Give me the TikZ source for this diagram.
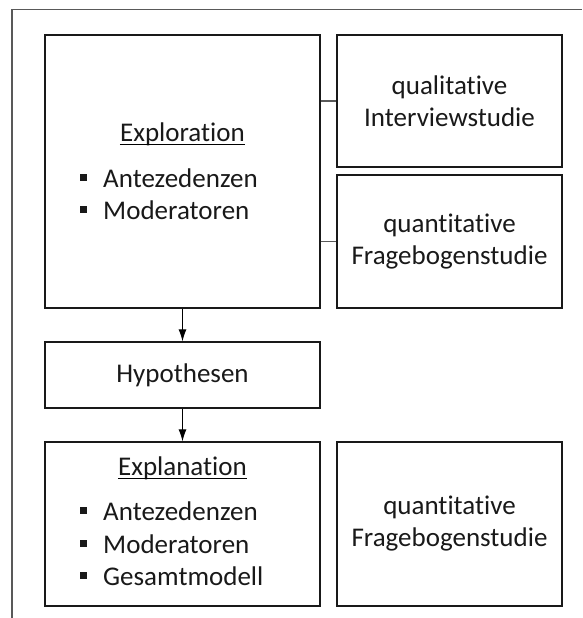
\documentclass[tikz,border=0pt]{standalone}
\usepackage{fontspec}
\setmainfont{Carlito}[Ligatures=NoCommon]
\usetikzlibrary{arrows.meta}

\begin{document}
\begin{tikzpicture}[x=1pt,y=1pt,
	box/.style={draw=black!90, line width=1.3pt, inner sep=0pt},
	txt/.style={font=\fontsize{27}{32}\selectfont, inner sep=0pt, text=black!90},
	link/.style={draw=black!65, line width=1.3pt},
	flow/.style={draw=black, line width=1pt, -{Latex[length=12pt,width=8pt]}},
	rahmen/.style={draw=black!65, line width=1.5pt}]
	\useasboundingbox (0,0) rectangle (582,-618);
	% outer frame
	\draw[rahmen] (12,-618) -- (12,-9.5) -- (582,-9.5);
	% left column
	\node[box, minimum width=275pt, minimum height=273pt] (expl) at (182.5,-171.5) {};
	\node[box, txt, minimum width=275pt, minimum height=66pt] (hyp) at (182.5,-375) {Hypothesen};
	\node[box, minimum width=275pt, minimum height=164pt] (explan) at (182.5,-524) {};
	% right column
	\node[box, txt, align=center, minimum width=225pt, minimum height=132pt] (qual) at (449.5,-101) {qualitative\\Interviewstudie};
	\node[box, txt, align=center, minimum width=225pt, minimum height=133pt] (quant) at (449.5,-241.5) {quantitative\\Fragebogenstudie};
	\node[box, txt, align=center, minimum width=225pt, minimum height=164pt] (quantb) at (449.5,-524) {quantitative\\Fragebogenstudie};
	% box contents
	\node[txt, anchor=base] (explt) at (182.5,-141) {Exploration};
	\draw[line width=1.6pt] ([yshift=-3.5pt]explt.base west) -- ([yshift=-3.5pt]explt.base east);
	\foreach \name/\y [count=\i] in {Antezedenzen/-187, Moderatoren/-219} {
		\fill[black!90] (80,\y+6.5) rectangle (87,\y+13.5);
		\node[txt, anchor=base west] (expl\i) at (103,\y) {\name};
	}
	\node[txt, anchor=base] (explant) at (182.5,-475) {Explanation};
	\draw[line width=1.6pt] ([yshift=-3.5pt]explant.base west) -- ([yshift=-3.5pt]explant.base east);
	\foreach \name/\y [count=\i] in {Antezedenzen/-520, Moderatoren/-553, Gesamtmodell/-585} {
		\fill[black!90] (80,\y+6.5) rectangle (87,\y+13.5);
		\node[txt, anchor=base west] (explan\i) at (103,\y) {\name};
	}
	% connectors
	\draw[flow] (expl) -- (hyp);
	\draw[flow] (hyp) -- (explan);
	\draw[link] (expl.east |- qual.west) -- (qual.west);
	\draw[link] (expl.east |- quant.west) -- (quant.west);
\end{tikzpicture}
\end{document}
